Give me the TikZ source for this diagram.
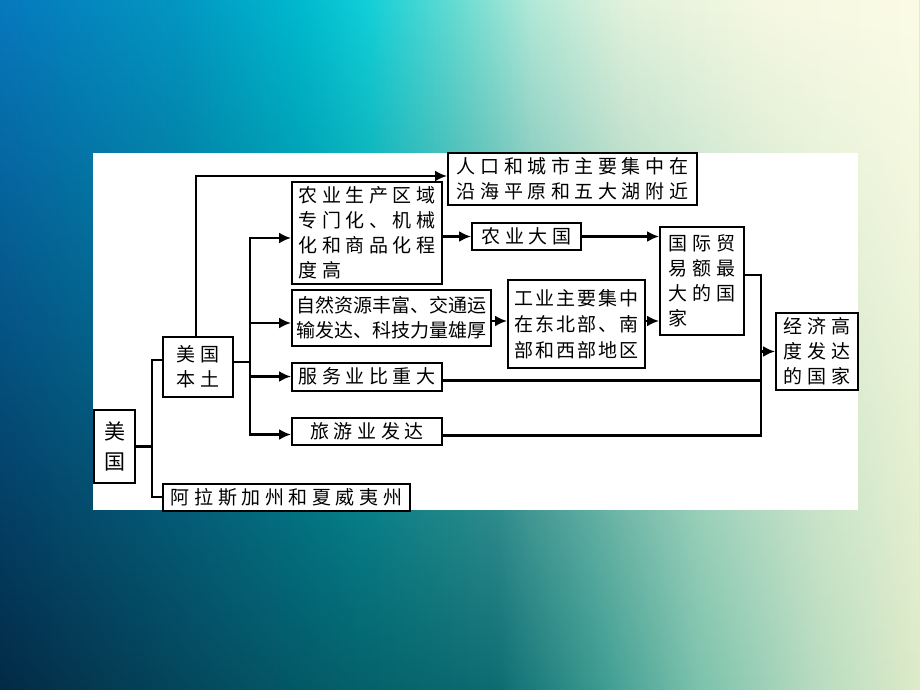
\documentclass[tikz,border=0pt]{standalone}
\usepackage{fontspec}
\usetikzlibrary{arrows.meta,fadings}

\newfontfamily\cjk[LetterSpace=24]{Noto Sans CJK SC}
\newfontfamily\cjkmid[LetterSpace=10]{Noto Sans CJK SC}
\newfontfamily\cjktight{Noto Sans CJK SC}

% background colours
\definecolor{topA}{HTML}{0779BE}
\definecolor{topB}{HTML}{0298C2}
\definecolor{topC}{HTML}{00BBD0}
\definecolor{topD}{HTML}{12D0D8}
\definecolor{topE}{HTML}{6ADDD2}
\definecolor{topF}{HTML}{B4E9D8}
\definecolor{topG}{HTML}{E2F2DC}
\definecolor{topH}{HTML}{F6F8E2}
\definecolor{topI}{HTML}{FCFCE6}
\definecolor{botA}{HTML}{032A45}
\definecolor{botB}{HTML}{054A5E}
\definecolor{botC}{HTML}{04606A}
\definecolor{botD}{HTML}{0C6C72}
\definecolor{botE}{HTML}{3A9A90}
\definecolor{botF}{HTML}{7CC2AC}
\definecolor{botG}{HTML}{B8DCC0}
\definecolor{botH}{HTML}{DDEBC8}

\pgfdeclarehorizontalshading{bgtop}{100bp}{color(0bp)=(topA); color(25bp)=(topA);
  color(35bp)=(topB); color(41.5bp)=(topC); color(45bp)=(topD); color(50bp)=(topE);
  color(54bp)=(topF); color(59bp)=(topG); color(66.5bp)=(topH); color(75bp)=(topI);
  color(100bp)=(topI)}
\pgfdeclarehorizontalshading{bgbottom}{100bp}{color(0bp)=(botA); color(25bp)=(botA);
  color(36bp)=(botB); color(44bp)=(botC); color(52bp)=(botD); color(57.5bp)=(botE);
  color(63bp)=(botF); color(69.5bp)=(botG); color(75bp)=(botH); color(100bp)=(botH)}
\pgfdeclareverticalshading{bgfadeshade}{100bp}{color(0bp)=(black); color(25bp)=(black);
  color(75bp)=(white); color(100bp)=(white)}
\pgfdeclarefading{bgfade}{\pgfuseshading{bgfadeshade}}

\begin{document}
\begin{tikzpicture}[x=1pt,y=-1pt,
  box/.style={draw, line width=2pt, fill=white, inner sep=2pt, align=left,
    font=\cjk\fontsize{19pt}{25pt}\selectfont},
  link/.style={line width=2.2pt},
  arr/.style={line width=2.2pt, -{Latex[length=12pt,width=11pt]}}]
  \useasboundingbox (0,0) rectangle (920,690);

  % Draw the background and the white panel
  \shade[shading=bgbottom] (0,0) rectangle (920,690);
  \shade[shading=bgtop, path fading=bgfade] (0,0) rectangle (920,690);
  \fill[white] (93,153) rectangle (858,510);

  % Draw the boxes
  \node[box, minimum width=41pt, minimum height=73pt,
    font=\cjktight\fontsize{21pt}{30pt}\selectfont] (usa) at (114.5,446.5) {美\\国};
  \node[box, minimum width=70pt, minimum height=60pt] (mainland) at (198,367) {美国\\本土};
  \node[box, minimum width=247pt, minimum height=27pt] (alaska) at (286.5,497) {阿拉斯加州和夏威夷州};
  \node[box, minimum width=249pt, minimum height=52pt] (pop) at (572.5,179)
    {人口和城市主要集中在\\沿海平原和五大湖附近};
  \node[box, minimum width=150pt, minimum height=102pt] (agri) at (367,233)
    {农业生产区域\\专门化、机械\\化和商品化程\\度高};
  \node[box, minimum width=109pt, minimum height=27pt] (agbig) at (526.5,236.5) {农业大国};
  \node[box, minimum width=199pt, minimum height=56pt,
    font=\cjktight\fontsize{19pt}{25pt}\selectfont] (res) at (391.5,318)
    {自然资源丰富、交通运\\输发达、科技力量雄厚};
  \node[box, minimum width=137pt, minimum height=88pt,
    font=\cjkmid\fontsize{19pt}{26pt}\selectfont] (ind) at (576.5,324)
    {工业主要集中\\在东北部、南\\部和西部地区};
  \node[box, minimum width=84pt, minimum height=108pt] (trade) at (702,281)
    {国际贸\\易额最\\大的国\\家};
  \node[box, minimum width=150pt, minimum height=28pt] (serv) at (367,376.5) {服务业比重大};
  \node[box, minimum width=150pt, minimum height=27pt] (tour) at (367,431.5) {旅游业发达};
  \node[box, minimum width=82pt, minimum height=77pt] (econ) at (817,351.5)
    {经济高\\度发达\\的国家};

  % Split the country into its two parts
  \draw[link] (usa.east) -- ++(16,0) coordinate (jusa);
  \draw[link] ([yshift=7pt]mainland.west) -| (jusa) |- (alaska.west);

  % Branches of the mainland
  \draw[arr] ([xshift=-2pt]mainland.north) |- ([yshift=3pt]pop.west);
  \draw[link] ([yshift=5pt]mainland.east) -- ++(16,0) coordinate (jmain);
  \draw[arr] (jmain) |- ([yshift=-5pt]agri.west);
  \draw[arr] (jmain) |- ([yshift=-5pt]res.west);
  \draw[arr] (jmain) |- (serv.west);
  \draw[arr] (jmain) |- ([yshift=-3pt]tour.west);

  % Agriculture and industry lead to trade
  \draw[arr] (agri.east |- agbig.west) -- (agbig.west);
  \draw[arr] (agbig.east) -- (agbig.east -| trade.west);
  \coordinate (jres) at ([yshift=3pt]ind.west);
  \draw[arr] (res.east |- jres) -- (jres);
  \draw[arr] (jres -| ind.east) -- (jres -| trade.west);

  % Everything joins the last box
  \draw[arr] ([yshift=6pt]trade.east) -- ++(16,0) coordinate (jecon) |- (econ.west);
  \draw[link] ([yshift=-4pt]serv.east) -| (jecon);
  \draw[link] ([yshift=-4pt]tour.east) -| (jecon);
\end{tikzpicture}
\end{document}
